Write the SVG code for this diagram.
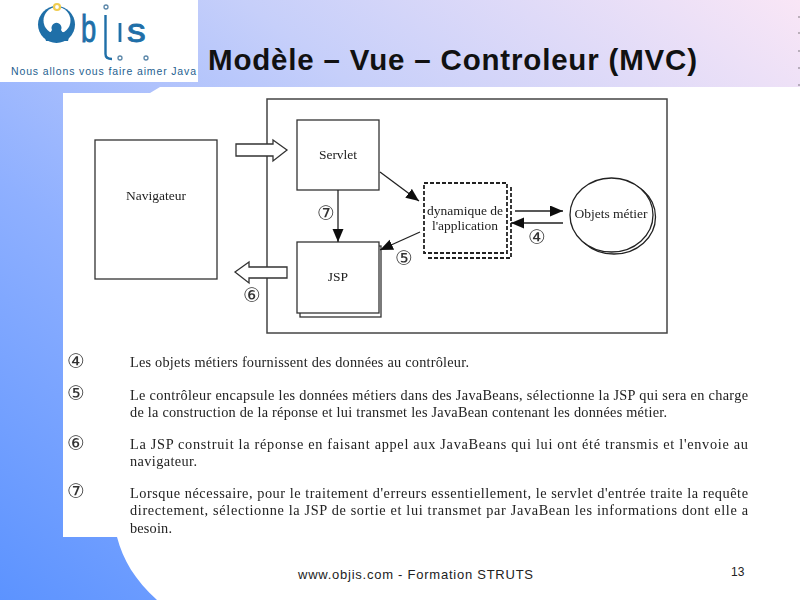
<svg xmlns="http://www.w3.org/2000/svg" width="800" height="600" viewBox="0 0 800 600">
<defs>
<linearGradient id="bg" x1="0" y1="1" x2="1" y2="0"><stop offset="0" stop-color="#5c93ff"/><stop offset="0.35" stop-color="#8fb0ff"/><stop offset="0.65" stop-color="#c6cffa"/><stop offset="1" stop-color="#f9e6f6"/></linearGradient>
<filter id="soft" x="-2%" y="-2%" width="104%" height="104%"><feGaussianBlur stdDeviation="0.55"/></filter>
<marker id="ah" markerUnits="userSpaceOnUse" markerWidth="15" markerHeight="12" refX="13" refY="5.5" orient="auto"><path d="M0,0L13,5.5L0,11z" fill="#111"/></marker>
</defs>
<style>
text{font-family:"Liberation Serif",serif;fill:#222}
.b{fill:#fff;stroke:#333;stroke-width:1.3}
.p{font-size:14.3px}
.n{font-family:"DejaVu Sans",sans-serif;font-size:20px;fill:#333;text-anchor:middle}
.d{fill:none;stroke:#222;stroke-width:1.8;stroke-dasharray:4 2}
.c{fill:none;stroke:#222;stroke-width:1.3}
.lc{fill:none;stroke:#5a86a8;stroke-width:1.3}
.ln{font-size:13.5px;text-anchor:middle}
.s{font-family:"Liberation Sans",sans-serif}
.lg{fill:#1f6fa8;stroke:#1f6fa8;stroke-width:0.9}
</style>
<rect width="800" height="600" fill="url(#bg)"/>
<path d="M160,87H800V600H157C135,580 123,560 117,537H63V93H150z" fill="#fff"/>
<path d="M798,17H800M798,33H800M798,51H800M798,68H800M798,85H800" stroke="#333" stroke-width="0.6"/>
<g id="logo">
<rect width="198" height="82" fill="#fff"/>
<circle cx="56.5" cy="24.5" r="18.500" fill="#1f6fa8"/>
<circle cx="57" cy="20.5" r="13.500" fill="#fff"/>
<path d="M43,30Q50,35 52,30A5,5 0 1 1 61,30Q63,35 71,30L68,41H46z" fill="#1f6fa8"/>
<circle cx="57" cy="7" r="3" fill="#fff" stroke="#f0cc50" stroke-width="2.2"/>
<text class="s lg" transform="translate(81,42) scale(.72,1)" font-size="38">b</text>
<path d="M105.500,15V54Q105.500,59 112,59" fill="none" stroke="#1f6fa8" stroke-width="2.4"/>
<path d="M120,23V42" stroke="#1f6fa8" stroke-width="2.8"/>
<text class="s lg" transform="translate(127,42) scale(1.1,1)" font-size="34">s</text>
<circle class="lc" cx="106" cy="7" r="2"/><circle class="lc" cx="120" cy="58" r="2"/><circle class="lc" cx="146" cy="58" r="2"/>
<text class="s" x="11" y="75" font-size="10.500" textLength="185" style="fill:#1f5f90">Nous allons vous faire aimer Java</text>
</g>
<text id="title" class="s" x="208" y="70" font-size="29.5" font-weight="bold" textLength="489" style="fill:#111">Modèle – Vue – Controleur (MVC)</text>
<g filter="url(#soft)">
<g id="frame"><rect x="267" y="99" width="400" height="234" fill="#fff" stroke="#444" stroke-width="1.5"/></g>
<g id="navigateur"><rect class="b" x="95" y="140" width="122" height="139"/><text x="156" y="200" class="ln">Navigateur</text></g>
<g id="servlet"><rect class="b" x="297" y="120" width="82" height="70"/><text x="338" y="159" class="ln">Servlet</text></g>
<g id="jsp"><rect class="b" x="300" y="246" width="81" height="71"/><rect class="b" x="297" y="242" width="82" height="71"/><text x="338" y="281" class="ln">JSP</text></g>
<g id="controleur"><path class="d" d="M428,258H511V187"/><rect class="d" x="424" y="183" width="83" height="70"/><text x="465" y="215" class="ln">dynamique de</text><text x="465" y="230" class="ln">l'application</text></g>
<g id="objets"><ellipse class="c" cx="614" cy="217" rx="41.5" ry="37"/><ellipse cx="611.5" cy="215" rx="41.5" ry="37" fill="#fff" stroke="#222" stroke-width="1.3"/><text x="611" y="218" class="ln">Objets métier</text></g>
<g id="connectors">
<path class="b" d="M236,144H273V140L287,150L273,161V156H236z"/>
<path class="b" d="M287,267H249V262L235,272L249,283V278H287z"/>
<path class="c" marker-end="url(#ah)" d="M380,172L419,201"/>
<path class="c" marker-end="url(#ah)" d="M338,190V242"/>
<path class="c" marker-end="url(#ah)" d="M420,232L380,250"/>
<path class="c" marker-end="url(#ah)" d="M515,211H563"/>
<path class="c" marker-end="url(#ah)" d="M563,223H511"/>
</g>
<g id="numeros">
<text class="n" x="326" y="220">⑦</text><text class="n" x="404" y="265">⑤</text><text class="n" x="252" y="302">⑥</text><text class="n" x="537" y="244">④</text>
<text class="n" x="76" y="368">④</text><text class="n" x="76" y="400">⑤</text><text class="n" x="76" y="450">⑥</text><text class="n" x="76" y="498">⑦</text>
</g>
<g id="texte">
<text class="p" x="130" y="367" textLength="339">Les objets métiers fournissent des données au contrôleur.</text>
<text class="p" x="130" y="400" textLength="618">Le contrôleur encapsule les données métiers dans des JavaBeans, sélectionne la JSP qui sera en charge</text>
<text class="p" x="130" y="417" textLength="537">de la construction de la réponse et lui transmet les JavaBean contenant les données métier.</text>
<text class="p" x="130" y="449" textLength="618">La JSP construit la réponse en faisant appel aux JavaBeans qui lui ont été transmis et l'envoie au</text>
<text class="p" x="130" y="466" textLength="67">navigateur.</text>
<text class="p" x="130" y="498" textLength="618">Lorsque nécessaire, pour le traitement d'erreurs essentiellement, le servlet d'entrée traite la requête</text>
<text class="p" x="130" y="515" textLength="618">directement, sélectionne la JSP de sortie et lui transmet par JavaBean les informations dont elle a</text>
<text class="p" x="130" y="533" textLength="42">besoin.</text>
</g>
</g>
<text id="footer" class="s" x="298" y="579" font-size="13" textLength="235" style="fill:#222">www.objis.com - Formation STRUTS</text>
<text id="page" class="s" x="731" y="576" font-size="12" style="fill:#222">13</text>
</svg>
